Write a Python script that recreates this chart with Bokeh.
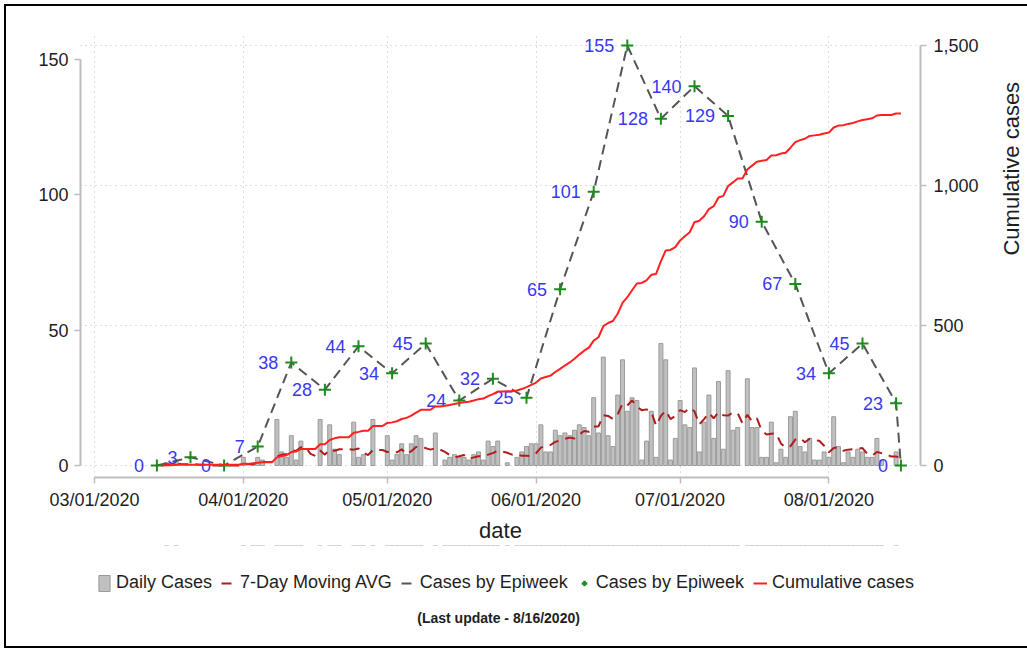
import math
import pandas as pd
from bokeh.plotting import figure
from bokeh.layouts import column
from bokeh.models import (Range1d, LinearAxis, FixedTicker, DatetimeTickFormatter,
                          NumeralTickFormatter, Grid, Legend, LegendItem, Label,
                          BoxAnnotation, ColumnDataSource)
from bokeh.core.properties import value
from bokeh.embed import file_html
from bokeh.resources import INLINE

# ---------------- data ----------------
first_day = "2020-03-15"
daily_cases = [
    0, 1, 0, 2, 0, 0, 0,          # Mar 15-21
    0, 0, 0, 0, 0, 0, 0,          # Mar 22-28
    0, 0, 0, 3, 0, 1, 3,          # Mar 29-Apr 4
    2, 0, 0, 17, 5, 3, 11,        # Apr 5-11
    2, 9, 0, 0, 0, 17, 0,         # Apr 12-18
    15, 6, 4, 0, 0, 16, 3,        # Apr 19-25
    4, 0, 17, 0, 0, 11, 2,        # Apr 26-May 2
    4, 8, 4, 8, 11, 10, 0,        # May 3-9
    0, 12, 0, 2, 3, 4, 3,         # May 10-16
    3, 2, 4, 5, 2, 9, 7,          # May 17-23
    9, 0, 1, 0, 3, 5, 7,          # May 24-30
    8, 8, 15, 5, 5, 13, 11,       # May 31-Jun 6
    12, 11, 13, 15, 14, 11, 25,   # Jun 7-13
    12, 40, 11, 7, 26, 39, 20,    # Jun 14-20
    25, 24, 2, 9, 20, 3, 45,      # Jun 21-27
    39, 2, 10, 24, 15, 14, 36,    # Jun 28-Jul 4
    5, 16, 26, 10, 31, 6, 35,     # Jul 5-11
    13, 14, 0, 32, 14, 14, 3,     # Jul 12-18
    3, 16, 1, 6, 3, 18, 20,       # Jul 19-25
    7, 5, 10, 2, 2, 5, 3,         # Jul 26-Aug 1
    18, 7, 1, 5, 3, 6, 5,         # Aug 2-8
    3, 3, 10, 2, 0, 0, 5,         # Aug 9-15
    0,                            # Aug 16
]
epiweek_dates = [
    "2020-03-14", "2020-03-21", "2020-03-28", "2020-04-04", "2020-04-11",
    "2020-04-18", "2020-04-25", "2020-05-02", "2020-05-09", "2020-05-16",
    "2020-05-23", "2020-05-30", "2020-06-06", "2020-06-13", "2020-06-20",
    "2020-06-27", "2020-07-04", "2020-07-11", "2020-07-18", "2020-07-25",
    "2020-08-01", "2020-08-08", "2020-08-15", "2020-08-16",
]
epiweek_cases = [0, 3, 0, 7, 38, 28, 44, 34, 45, 24, 32, 25, 65, 101, 155,
                 128, 140, 129, 90, 67, 34, 45, 23, 0]
left_ticks = [0, 50, 100, 150]
right_ticks = [0, 500, 1000, 1500]
date_ticks = ["2020-03-01", "2020-04-01", "2020-05-01", "2020-06-01",
              "2020-07-01", "2020-08-01"]
legend_labels = ["Daily Cases", "7-Day Moving AVG", "Cases by Epiweek",
                 "Cases by Epiweek", "Cumulative cases"]
x_title = "date"
right_title = "Cumulative cases"
note_text = "(Last update -  8/16/2020)"

# ---------------- derived series ----------------
dates = pd.date_range(first_day, periods=len(daily_cases), freq="D")
daily = pd.Series(daily_cases, index=dates, dtype=float)
ma7 = daily.rolling(7, min_periods=1).mean()
cumulative = daily.cumsum()
bar_top = daily.where(daily > 0)

DAY = 86400000.0


def ms(d):
    return pd.Timestamp(d).value / 1e6


PX_PER_DAY = 4.8
t0 = ms(date_ticks[0])
x_start = t0 - 14 / PX_PER_DAY * DAY
x_end = x_start + 840 / PX_PER_DAY * DAY

left_px = 420 / 155.0
right_px = 420 / 1500.0

# colours / fonts
AX_COL = "#bdbdbd"
TXT_COL = "#1e1e1e"
FONT = "Liberation Sans"
BAR_FILL, BAR_LINE = "#c0c0c0", "#9a9a9a"
MA_COL, EPI_COL, CROSS_COL, CUM_COL = "#b01c1c", "#555555", "#1c8c1c", "#ff2020"
LABEL_COL = "#3838f2"

# ---------------- main chart ----------------
p = figure(frame_width=840, frame_height=444, x_axis_type="datetime",
           x_range=Range1d(x_start, x_end),
           y_range=Range1d(-12 / left_px, 155 + 12 / left_px),
           output_backend="svg", toolbar_location=None,
           min_border_left=74, min_border_right=100,
           min_border_top=27, min_border_bottom=68)
p.extra_y_ranges = {"cum": Range1d(-12 / right_px, 1500 + 12 / right_px)}
p.outline_line_color = None
p.background_fill_color = "white"
p.border_fill_color = "white"

# x axis
xax = p.xaxis[0]
xax.ticker = FixedTicker(ticks=[ms(d) for d in date_ticks])
fmt = "%m/%d/%Y"
xax.formatter = DatetimeTickFormatter(days=fmt, months=fmt, years=fmt,
                                      hours=fmt, hourmin=fmt)
xax.bounds = (ms(date_ticks[0]), ms(date_ticks[-1]))
xax.axis_label = x_title
xax.major_label_standoff = 6
xax.axis_label_standoff = 5

# left axis
yax = p.yaxis[0]
yax.ticker = FixedTicker(ticks=left_ticks)
yax.bounds = (left_ticks[0], left_ticks[-1])
yax.major_label_standoff = 6

# right axis
rax = LinearAxis(y_range_name="cum", ticker=FixedTicker(ticks=right_ticks),
                 formatter=NumeralTickFormatter(format="0,0"),
                 axis_label=right_title, bounds=(right_ticks[0], right_ticks[-1]))
rax.major_label_standoff = 7
rax.axis_label_standoff = 30
try:
    rax.axis_label_orientation = math.pi / 2
except Exception:
    pass
p.add_layout(rax, "right")

for ax in (xax, yax, rax):
    ax.axis_line_color = AX_COL
    ax.axis_line_width = 2
    ax.major_tick_line_color = AX_COL
    ax.major_tick_line_width = 1.5
    ax.major_tick_out = 6
    ax.major_tick_in = 0
    ax.minor_tick_line_color = None
    ax.major_label_text_font = FONT
    ax.major_label_text_font_size = "18px"
    ax.major_label_text_color = TXT_COL
    ax.axis_label_text_font = FONT
    ax.axis_label_text_font_size = "22px"
    ax.axis_label_text_font_style = "normal"
    ax.axis_label_text_color = TXT_COL

# grids
p.xgrid.grid_line_color = "#bdbdbd"
p.xgrid.grid_line_dash = "1 4"
p.xgrid.grid_line_width = 1
p.ygrid.visible = False
rgrid = Grid(dimension=1, ticker=FixedTicker(ticks=right_ticks), y_range_name="cum",
             grid_line_color="#bdbdbd", grid_line_dash="1 4", grid_line_width=1)
p.add_layout(rgrid)

# glyphs
src = ColumnDataSource(dict(date=dates, bar=bar_top.values, ma=ma7.values,
                            cum=cumulative.values))
epi_src = ColumnDataSource(dict(date=pd.to_datetime(epiweek_dates),
                                cases=epiweek_cases,
                                label=[str(v) for v in epiweek_cases]))

bar_style = dict(fill_color=BAR_FILL, line_color=BAR_LINE, line_width=1)
ma_style = dict(line_color=MA_COL, line_width=2, line_dash="10 7")
epi_style = dict(line_color=EPI_COL, line_width=2, line_dash="10 6")
cross_style = dict(marker="cross", size=12, line_color=CROSS_COL, line_width=2)
cum_style = dict(line_color=CUM_COL, line_width=2)

p.vbar(x="date", top="bar", bottom=0, width=0.82 * DAY, source=src, **bar_style)
p.line("date", "ma", source=src, **ma_style)
p.line("date", "cases", source=epi_src, **epi_style)
p.scatter("date", "cases", source=epi_src, **cross_style)
p.text("date", "cases", text="label", source=epi_src, x_offset=-13,
       text_align="right", text_baseline="middle", text_font=value(FONT),
       text_font_size="18px", text_color=LABEL_COL)
p.line("date", "cum", source=src, y_range_name="cum", **cum_style)

# ---------------- legend + note strip ----------------
# the same series are drawn again here, far outside this strip's visible
# y-range and hidden under a white box, only so that the legend can show
# their symbols
p2 = figure(frame_width=840, frame_height=101, x_axis_type="datetime",
            x_range=Range1d(x_start, x_end), y_range=Range1d(-1e6, -1e6 + 101),
            output_backend="svg", toolbar_location=None,
            min_border_left=74, min_border_right=100, min_border_top=0,
            min_border_bottom=0, x_axis_location=None, y_axis_location=None)
p2.outline_line_color = None
p2.grid.visible = False
p2.background_fill_color = "white"
p2.border_fill_color = "white"

k_bar = p2.vbar(x="date", top="bar", bottom=0, width=0.82 * DAY, source=src,
                **bar_style)
k_ma = p2.line("date", "ma", source=src, **ma_style)
k_epi = p2.line("date", "cases", source=epi_src, **epi_style)
k_cross = p2.scatter("date", "cases", source=epi_src,
                     **dict(cross_style, line_width=2.5))
k_cum = p2.line("date", "cum", source=src, **cum_style)

p2.add_layout(BoxAnnotation(fill_color="white", fill_alpha=1.0,
                            line_color=None, line_alpha=0))

legend = Legend(
    items=[LegendItem(label=lab, renderers=[r]) for lab, r in
           zip(legend_labels, [k_bar, k_ma, k_epi, k_cross, k_cum])],
    orientation="horizontal", location=(17, 53),
    glyph_width=14, glyph_height=20, label_standoff=5, spacing=9,
    padding=0, margin=0, border_line_color=None, background_fill_alpha=0,
    label_text_font=FONT, label_text_font_size="18px",
    label_text_color=TXT_COL, label_height=20)
p2.add_layout(legend)

p2.add_layout(Label(x=420, y=29, x_units="screen", y_units="screen",
                    text=note_text, text_align="center",
                    text_baseline="middle", text_font=FONT,
                    text_font_size="14px", text_font_style="bold",
                    text_color=TXT_COL))

layout = column(p, p2, spacing=0)
layout.styles = {"border": "2px solid black", "margin-left": "4px",
                 "margin-top": "4px"}

open("out.html", "w").write(file_html(layout, INLINE))
